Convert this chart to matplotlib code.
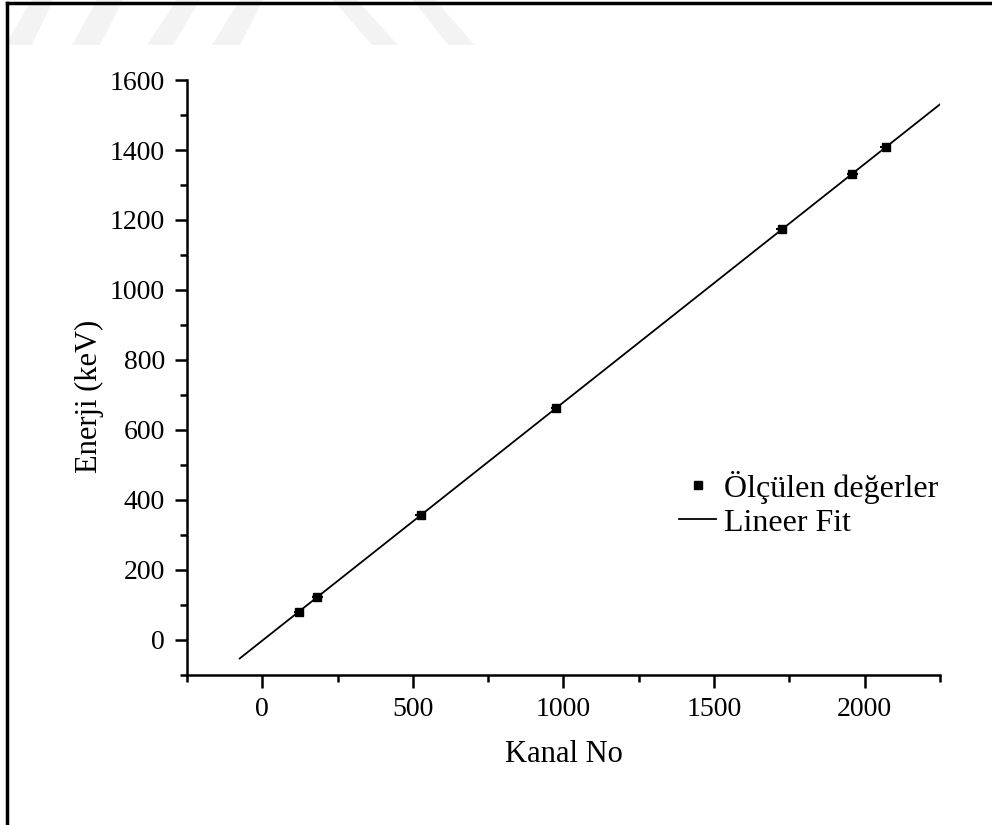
import numpy as np
import matplotlib
matplotlib.use("Agg")
import matplotlib.pyplot as plt
from matplotlib.patches import Polygon
from matplotlib.lines import Line2D

plt.rcParams['font.family'] = ['Liberation Serif', 'DejaVu Serif']

# measured peaks: channel number vs energy (keV)
kanal = [122, 182, 526, 975, 1725, 1959, 2070]
enerji = [81, 122, 356, 662, 1173, 1332, 1408]
kanal_err = [18, 18, 18, 18, 18, 18, 18]

fit_range = [-75, 2250]

fig = plt.figure(figsize=(9.92, 8.25), dpi=100)
ax = fig.add_axes([0.1885, 0.182, 0.759, 0.721])

# faint watermark stripes at the top
W, H = 992.0, 825.0
stripes = [
    [(5, 45), (32, 45), (53, 0), (32, 0)],
    [(72, 45), (100, 45), (123, 0), (97, 0)],
    [(147, 45), (173, 45), (200, 0), (177, 0)],
    [(212, 45), (240, 45), (263, 0), (240, 0)],
    [(333, 0), (357, 0), (398, 45), (372, 45)],
    [(413, 0), (435, 0), (475, 45), (448, 45)],
]
for s in stripes:
    pts = [(x / W, 1 - y / H) for x, y in s]
    fig.patches.append(Polygon(pts, closed=True, transform=fig.transFigure,
                               facecolor='#f3f3f3', edgecolor='none', zorder=0))

# page frame (left and top)
fig.add_artist(Line2D([7 / W, 7 / W], [0, 1 - 3 / H], transform=fig.transFigure,
                      color='black', lw=2.5))
fig.add_artist(Line2D([7 / W, 1], [1 - 3 / H, 1 - 3 / H], transform=fig.transFigure,
                      color='black', lw=2.5))

k = np.array(kanal)
e = np.array(enerji)
b, a = np.polyfit(k, e, 1)
xf = np.array(fit_range)

ax.errorbar(kanal, enerji, xerr=kanal_err, fmt='s', color='black', ms=6,
            elinewidth=1.5, capsize=0, zorder=3)
ax.plot(xf, a + b * xf, color='black', lw=1.3)

ax.set_xlim(-250, 2250)
ax.set_ylim(-100, 1600)
ax.set_xticks([0, 500, 1000, 1500, 2000])
ax.set_xticks([-250, 250, 750, 1250, 1750, 2250], minor=True)
ax.set_yticks(range(0, 1601, 200))
ax.set_yticks(range(-100, 1600, 200), minor=True)

for sp in ['top', 'right']:
    ax.spines[sp].set_visible(False)
for sp in ['left', 'bottom']:
    ax.spines[sp].set_linewidth(1.8)

ax.tick_params(which='major', direction='out', length=9, width=1.8, labelsize=20, pad=7)
ax.tick_params(which='minor', direction='out', length=5, width=1.8)

ax.set_xlabel('Kanal No', fontsize=22)
ax.set_ylabel('Enerji (keV)', fontsize=22)
ax.xaxis.set_label_coords(0.5, -0.11)
ax.yaxis.set_label_coords(-0.110, 0.469)

h_pts = Line2D([], [], ls='none', marker='s', color='black', ms=6)
h_fit = Line2D([], [], color='black', lw=1.3)
ax.legend([h_pts, h_fit], ['Ölçülen değerler', 'Lineer Fit'], loc='upper left',
          bbox_to_anchor=(0.637, 0.365), frameon=False, fontsize=23,
          handlelength=1.15, handletextpad=0.25, labelspacing=0.15, borderaxespad=0)

fig.savefig('out.png', dpi=100)
